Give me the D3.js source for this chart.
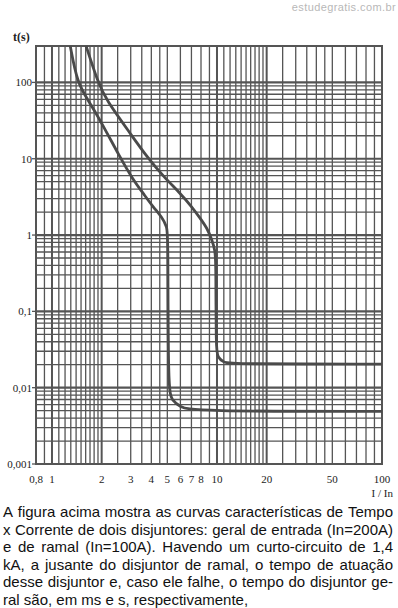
<!DOCTYPE html>
<html>
<head>
<meta charset="utf-8">
<script src="https://cdn.jsdelivr.net/npm/d3@7"></script>
<style>
  body { margin: 0; background: #fff; }
  svg { display: block; }
</style>
</head>
<body>
<script>
// chart size
var svgWidth = 398;
var svgHeight = 608;

// plot box in pixels
var plot = { left: 36, right: 382, top: 46, bottom: 464 };

// --- data ---
// x tick labels (I / In)
var xTicks = [0.8, 1, 2, 3, 4, 5, 6, 7, 8, 10, 20, 50, 100];
var xTickText = ["0,8", "1", "2", "3", "4", "5", "6", "7", "8", "10", "20", "50", "100"];
// y tick labels (t in s)
var yTicks = [100, 10, 1, 0.1, 0.01, 0.001];
var yTickText = ["100", "10", "1", "0,1", "0,01", "0,001"];

// vertical grid lines
var xGrid = [0.9, 1, 1.1, 1.2, 1.3, 1.4, 1.5, 1.6, 1.7, 1.8, 1.9, 2, 2.5, 3, 3.5, 4, 4.5,
  5, 6, 7, 8, 9, 10, 11, 12, 13, 14, 15, 16, 17, 18, 19, 20, 25, 30, 35, 40, 45,
  50, 60, 70, 80, 90];
var xMajor = [1, 2, 10, 20];
// horizontal grid lines: multiples 1..9 of each decade up to 100
var yDecades = [0.001, 0.01, 0.1, 1, 10];
var yMult = [1, 2, 3, 4, 5, 6, 7, 8, 9];

// left curve (breaker with 5 ms instantaneous time)
var curveAI = [1.29, 1.42, 1.65, 1.93, 2.58, 3.1, 3.56, 4.1, 4.64, 4.98, 5.05, 5.05, 5.34, 5.97, 7.06, 100];
var curveAT = [300, 100, 58.8, 34, 10.5, 5.3, 3.55, 2.33, 1.72, 1.27, 1.0, 0.0088, 0.0069, 0.0056, 0.0049, 0.0049];
// right curve (breaker with 20 ms instantaneous time)
var curveBI = [1.61, 1.9, 2.13, 2.97, 3.77, 4.77, 5.97, 7.06, 7.89, 8.7, 9.33, 9.73, 9.86, 9.86, 10.1, 10.9, 12.0, 100];
var curveBT = [300, 100, 58.8, 21.7, 10.5, 5.76, 3.55, 2.33, 1.67, 1.24, 0.86, 0.636, 0.443, 0.031, 0.0252, 0.0216, 0.0204, 0.0204];

// question text lines
var textLines = [
  "A figura acima mostra as curvas características de Tempo",
  "x Corrente de dois disjuntores: geral de entrada (In=200A)",
  "e de ramal (In=100A). Havendo um curto-circuito de 1,4",
  "kA, a jusante do disjuntor de ramal, o tempo de atuação",
  "desse disjuntor e, caso ele falhe, o tempo do disjuntor ge-",
  "ral são, em ms e s, respectivamente,"
];

var svg = d3.select("body")
  .append("svg")
  .attr("width", svgWidth)
  .attr("height", svgHeight);

// scales
var x = d3.scaleLog().domain([0.8, 100]).range([plot.left, plot.right]);
var y = d3.scaleLog().domain([0.001, 300]).range([plot.bottom, plot.top]);

var gridColor = "#555";

// horizontal grid
var yGrid = [];
yDecades.forEach(function(d) {
  yMult.forEach(function(m) { yGrid.push(+(d * m).toPrecision(3)); });
});
yGrid.push(100);

svg.append("g").selectAll("line")
  .data(yGrid)
  .enter()
  .append("line")
  .attr("x1", plot.left)
  .attr("x2", plot.right)
  .attr("y1", function(d) { return y(d); })
  .attr("y2", function(d) { return y(d); })
  .attr("stroke", gridColor)
  .attr("stroke-width", function(d) {
    return yTicks.indexOf(d) >= 0 ? 2.2 : 1.3;
  });

// vertical grid
svg.append("g").selectAll("line")
  .data(xGrid)
  .enter()
  .append("line")
  .attr("x1", function(d) { return x(d); })
  .attr("x2", function(d) { return x(d); })
  .attr("y1", plot.top)
  .attr("y2", plot.bottom)
  .attr("stroke", gridColor)
  .attr("stroke-width", function(d) {
    return xMajor.indexOf(d) >= 0 ? 2 : 1.3;
  });

// border
svg.append("rect")
  .attr("x", plot.left)
  .attr("y", plot.top)
  .attr("width", plot.right - plot.left)
  .attr("height", plot.bottom - plot.top)
  .attr("fill", "none")
  .attr("stroke", gridColor)
  .attr("stroke-width", 2);

// curves
var line = d3.line()
  .x(function(d) { return x(d[0]); })
  .y(function(d) { return y(d[1]); })
  .curve(d3.curveBasis);

[[curveAI, curveAT], [curveBI, curveBT]].forEach(function(c) {
  svg.append("path")
    .datum(d3.zip(c[0], c[1]))
    .attr("d", line)
    .attr("fill", "none")
    .attr("stroke", "#4a4a4a")
    .attr("stroke-width", 2.8);
});

var serif = "'Liberation Serif', 'DejaVu Serif', serif";

// y ticks + labels
var yAxisG = svg.append("g");
yAxisG.selectAll("line")
  .data(yTicks)
  .enter()
  .append("line")
  .attr("x1", plot.left - 4)
  .attr("x2", plot.left)
  .attr("y1", function(d) { return y(d); })
  .attr("y2", function(d) { return y(d); })
  .attr("stroke", gridColor)
  .attr("stroke-width", 1.3);
yAxisG.selectAll("text")
  .data(yTicks)
  .enter()
  .append("text")
  .attr("x", plot.left - 4)
  .attr("y", function(d) { return y(d); })
  .attr("dy", "0.35em")
  .attr("text-anchor", "end")
  .style("font-family", serif)
  .style("font-size", "11px")
  .attr("fill", "#222")
  .text(function(d, i) { return yTickText[i]; });

// x labels
svg.append("g").selectAll("text")
  .data(xTicks)
  .enter()
  .append("text")
  .attr("x", function(d) { return x(d); })
  .attr("y", 483)
  .attr("text-anchor", "middle")
  .style("font-family", serif)
  .style("font-size", "11px")
  .attr("fill", "#222")
  .text(function(d, i) { return xTickText[i]; });

// axis titles
svg.append("text")
  .attr("x", 13)
  .attr("y", 41)
  .style("font-family", serif)
  .style("font-size", "12px")
  .style("font-weight", "bold")
  .attr("fill", "#222")
  .text("t(s)");

svg.append("text")
  .attr("x", 393)
  .attr("y", 497)
  .attr("text-anchor", "end")
  .style("font-family", serif)
  .style("font-size", "11px")
  .attr("fill", "#222")
  .text("I / In");

// watermark
svg.append("text")
  .attr("x", 396)
  .attr("y", 11)
  .attr("text-anchor", "end")
  .style("font-family", "'Liberation Sans', Arial, sans-serif")
  .style("font-size", "11px")
  .style("letter-spacing", "0.4px")
  .attr("fill", "#b8b8b8")
  .text("estudegratis.com.br");

// paragraph, justified word by word
var textLeft = 3;
var textRight = 393;
var lineY0 = 517;
var lineStep = 17.6;
var sans = "'Liberation Sans', Arial, sans-serif";

textLines.forEach(function(str, li) {
  var yy = lineY0 + li * lineStep;
  if (li === textLines.length - 1) {
    svg.append("text")
      .attr("x", textLeft)
      .attr("y", yy)
      .style("font-family", sans)
      .style("font-size", "15px")
      .attr("fill", "#111")
      .text(str);
    return;
  }
  var words = str.split(" ");
  var g = svg.append("g");
  var nodes = g.selectAll("text")
    .data(words)
    .enter()
    .append("text")
    .attr("y", yy)
    .style("font-family", sans)
    .style("font-size", "15px")
    .attr("fill", "#111")
    .text(function(d) { return d; });
  var widths = nodes.nodes().map(function(n) { return n.getComputedTextLength(); });
  var total = d3.sum(widths);
  var gap = (textRight - textLeft - total) / (words.length - 1);
  var pos = textLeft;
  nodes.attr("x", function(d, i) {
    var p = pos;
    pos += widths[i] + gap;
    return p;
  });
});
</script>
</body>
</html>
